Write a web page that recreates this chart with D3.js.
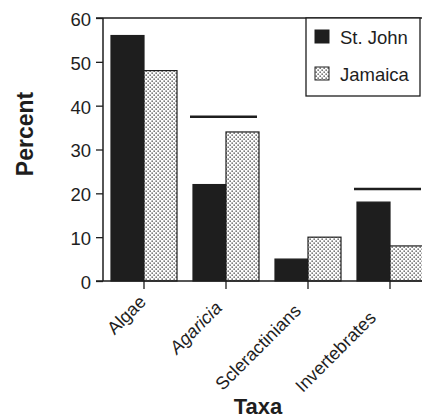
<!DOCTYPE html>
<html>
<head>
<meta charset="utf-8">
<script src="https://cdn.jsdelivr.net/npm/d3@7"></script>
<style>
  html, body { margin: 0; padding: 0; background: #fff; }
  svg { display: block; font-family: "Liberation Sans", Arial, Helvetica, sans-serif; }
</style>
</head>
<body>
<svg id="chart" width="422" height="418"></svg>
<script>
// Percent cover by taxon at two sites
const categories = ["Algae", "Agaricia", "Scleractinians", "Invertebrates"];
const seriesNames = ["St. John", "Jamaica"];
const stJohn = [56, 22, 5, 18];
const jamaica = [48, 34, 10, 8];
const yTicks = [0, 10, 20, 30, 40, 50, 60];
// significance bars drawn over two of the groups
const sigCategories = ["Agaricia", "Invertebrates"];
const sigLevels = [37.5, 21];

const svg = d3.select("#chart");
const ink = "#1e1e1e";

const defs = svg.append("defs");
const pat = defs.append("pattern")
  .attr("id", "stipple")
  .attr("patternUnits", "userSpaceOnUse")
  .attr("width", 4).attr("height", 4);
pat.append("rect").attr("width", 4).attr("height", 4).attr("fill", "#fff");
pat.append("rect").attr("x", 0.5).attr("y", 0.5).attr("width", 1.3).attr("height", 1.3).attr("fill", "#333");
pat.append("rect").attr("x", 2.5).attr("y", 2.5).attr("width", 1.3).attr("height", 1.3).attr("fill", "#333");

const plotLeft = 103, plotTop = 18, plotBottom = 281;
const y = d3.scaleLinear().domain([0, 60]).range([plotBottom, plotTop]);
const x0 = d3.scaleBand().domain(categories).range([plotLeft, plotLeft + 82 * 4]).padding(0);
const x1 = d3.scaleBand().domain(seriesNames).range([8, x0.bandwidth() - 8]).padding(0);

const fills = { "St. John": ink, "Jamaica": "url(#stipple)" };
const rows = categories.map((c, i) => ({ cat: c, vals: [
  { s: "St. John", v: stJohn[i] }, { s: "Jamaica", v: jamaica[i] }
]}));

// bars
const g = svg.append("g");
g.selectAll("g.grp").data(rows).join("g")
  .attr("class", "grp")
  .attr("transform", d => `translate(${x0(d.cat)},0)`)
  .selectAll("rect").data(d => d.vals).join("rect")
  .attr("x", d => x1(d.s))
  .attr("y", d => y(d.v))
  .attr("width", x1.bandwidth())
  .attr("height", d => y(0) - y(d.v))
  .attr("fill", d => fills[d.s])
  .attr("stroke", ink)
  .attr("stroke-width", 1.2);

// top frame line
svg.append("line")
  .attr("x1", plotLeft - 7).attr("x2", 422)
  .attr("y1", y(60)).attr("y2", y(60))
  .attr("stroke", ink).attr("stroke-width", 1.3);

// y axis
const yAxis = d3.axisLeft(y).tickValues(yTicks).tickSize(7).tickPadding(5);
const ya = svg.append("g").attr("transform", `translate(${plotLeft},0)`).call(yAxis);
ya.select(".domain").attr("stroke", ink).attr("stroke-width", 1.5).attr("d", `M0,${y(60)}V${y(0)}`);
ya.selectAll(".tick line").attr("stroke", ink).attr("stroke-width", 1.3);
ya.selectAll(".tick text").attr("font-size", 18.5).attr("fill", ink).attr("dy", "0.4em")
  .attr("font-family", "Liberation Sans, Arial, sans-serif");

// x axis
const xAxis = d3.axisBottom(x0).tickSize(8).tickFormat("");
const xa = svg.append("g").attr("transform", `translate(0,${plotBottom})`).call(xAxis);
xa.select(".domain").attr("stroke", ink).attr("stroke-width", 1.5).attr("d", `M${plotLeft - 7},0H422`);
xa.selectAll(".tick line").attr("stroke", ink).attr("stroke-width", 1.3);

// rotated category labels; longer names slide back along their own slant
const labelSlide = [0, 6, 9, 16];
svg.append("g").selectAll("text").data(categories).join("text")
  .attr("transform", (d, i) =>
    `translate(${x0(d) + x0.bandwidth() / 2 + 3 - labelSlide[i]},${plotBottom + 22 + labelSlide[i]}) rotate(-45)`)
  .attr("text-anchor", "end")
  .attr("font-size", 18)
  .attr("font-style", d => d === "Agaricia" ? "italic" : "normal")
  .attr("fill", ink)
  .text(d => d);

// significance bars
svg.append("g").selectAll("line").data(sigCategories).join("line")
  .attr("x1", d => x0(d) + 5)
  .attr("x2", d => x0(d) + x0.bandwidth() - 10)
  .attr("y1", (d, i) => y(sigLevels[i]))
  .attr("y2", (d, i) => y(sigLevels[i]))
  .attr("stroke", ink).attr("stroke-width", 2.5);

// axis titles
svg.append("text")
  .attr("transform", `translate(33,134) rotate(-90)`)
  .attr("text-anchor", "middle")
  .attr("font-size", 23).attr("font-weight", "bold").attr("fill", ink)
  .text("Percent");
svg.append("text")
  .attr("x", 258).attr("y", 414)
  .attr("text-anchor", "middle")
  .attr("font-size", 22).attr("font-weight", "bold").attr("fill", ink)
  .text("Taxa");

// legend
const lg = svg.append("g");
lg.append("rect")
  .attr("x", 306).attr("y", y(60)).attr("width", 114).attr("height", 78)
  .attr("fill", "#fff").attr("stroke", ink).attr("stroke-width", 1.3);
const items = lg.selectAll("g.item").data(seriesNames).join("g")
  .attr("class", "item")
  .attr("transform", (d, i) => `translate(315,${30 + i * 37})`);
items.append("rect")
  .attr("width", 14).attr("height", 13)
  .attr("fill", d => fills[d]).attr("stroke", ink).attr("stroke-width", 1);
items.append("text")
  .attr("x", 25).attr("y", 14)
  .attr("font-size", 18.5).attr("fill", ink)
  .text(d => d);
</script>
</body>
</html>
